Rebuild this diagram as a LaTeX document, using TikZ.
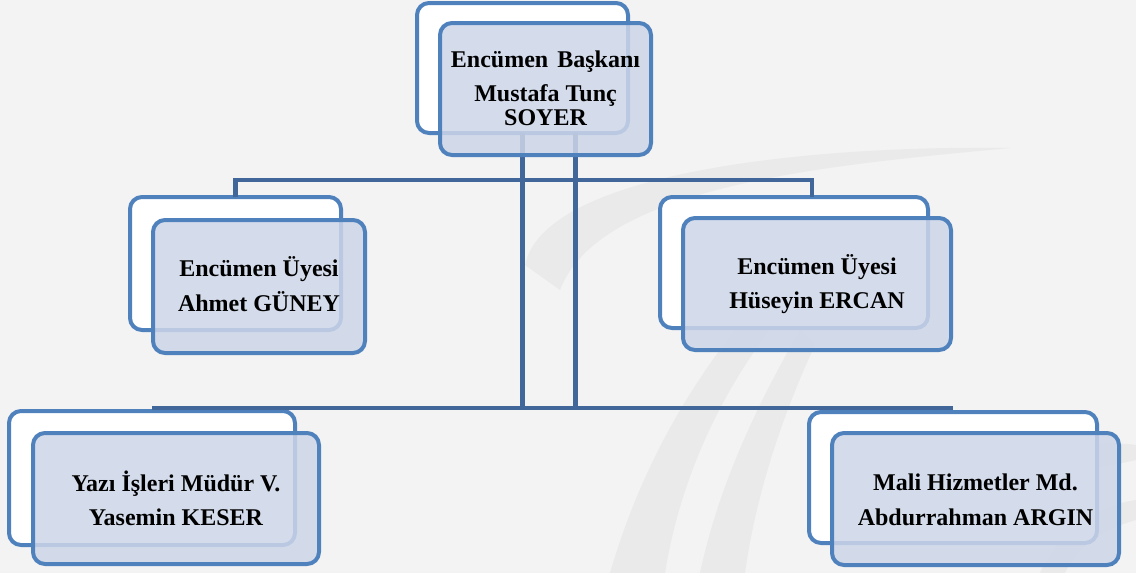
\documentclass[tikz,border=0pt]{standalone}
\usepackage{fontspec}
\setmainfont{Liberation Serif}
\definecolor{bgc}{HTML}{F3F3F3}
\definecolor{wm}{HTML}{EAEAEA}
\definecolor{boxblue}{HTML}{4F81BD}
\definecolor{connblue}{HTML}{41679A}
\definecolor{frontfill}{HTML}{CDD6E8}
\begin{document}
\begin{tikzpicture}[x=1pt,y=-1pt,
  backbox/.style={draw=boxblue, line width=4pt, rounded corners=12pt, fill=white, outer sep=0pt, inner sep=0pt},
  frontbox/.style={draw=boxblue, line width=4pt, rounded corners=12pt, fill=frontfill, fill opacity=0.85, outer sep=0pt, inner sep=0pt},
  conn/.style={draw=connblue, line width=4.5pt},
  lbl/.style={font=\fontsize{24}{24}\selectfont\bfseries, text=black, inner sep=0pt, anchor=base}]
\fill[bgc] (0,0) rectangle (1136,573);
\useasboundingbox (0,0) rectangle (1136,573);
% faint watermark
\begin{scope}[wm]
\fill (525,265) .. controls (545,170) and (820,145) .. (1010,148)
  .. controls (830,165) and (600,185) .. (560,290) -- cycle;
\fill (610,573) .. controls (640,470) and (690,380) .. (760,300)
  -- (785,310) .. controls (720,390) and (680,480) .. (665,573) -- cycle;
\fill (700,573) .. controls (720,480) and (760,400) .. (800,330)
  -- (815,345) .. controls (780,420) and (755,500) .. (745,573) -- cycle;
\fill (1000,480) .. controls (1040,445) and (1100,440) .. (1136,445)
  -- (1136,460) .. controls (1090,470) and (1040,480) .. (1000,480) -- cycle;
\fill (1040,573) .. controls (1060,530) and (1100,505) .. (1136,500)
  -- (1136,520) .. controls (1100,530) and (1075,550) .. (1065,573) -- cycle;
\end{scope}
% back boxes
\node[backbox, minimum width=211pt, minimum height=130pt] (tb) at (522.5,68) {};
\node[backbox, minimum width=211pt, minimum height=133pt] (ab) at (235.5,263.5) {};
\node[backbox, minimum width=268pt, minimum height=131pt] (hb) at (794,262.5) {};
\node[backbox, minimum width=286pt, minimum height=134pt] (yb) at (152,478) {};
\node[backbox, minimum width=288pt, minimum height=131pt] (mb) at (953,477.5) {};
% connectors
\coordinate (j1) at (575,180);
\draw[conn] (ab.north) |- (j1);
\draw[conn] ([xshift=18pt]hb.north) |- (j1);
\draw[conn] (tb.south) -- (tb.south |- 0,408);
\draw[conn] ([xshift=53pt]tb.south) -- ([xshift=53pt]tb.south |- 0,408);
\draw[conn] (yb.north |- 0,408) -- (mb.north |- 0,408);
% front boxes
\node[frontbox, minimum width=211pt, minimum height=132pt] (tf) at (545.5,89) {};
\node[frontbox, minimum width=212pt, minimum height=133pt] (af) at (259,286.5) {};
\node[frontbox, minimum width=268pt, minimum height=132pt] (hf) at (817,284) {};
\node[frontbox, minimum width=286pt, minimum height=131pt] (yf) at (176,498.5) {};
\node[frontbox, minimum width=287pt, minimum height=132pt] (mf) at (975.5,499) {};
% labels
\node[lbl] (t1) at (545.5,67) {Encümen\hspace{3pt} Başkanı};
\node[lbl] (t2) at (545.5,101) {Mustafa Tunç};
\node[lbl] (t3) at (545.5,125) {SOYER};
\node[lbl] (a1) at (259,276) {Encümen Üyesi};
\node[lbl] (a2) at (259,311) {Ahmet GÜNEY};
\node[lbl] (h1) at (817,274) {Encümen Üyesi};
\node[lbl] (h2) at (817,308) {Hüseyin ERCAN};
\node[lbl] (y1) at (176,491) {Yazı İşleri Müdür V.};
\node[lbl] (y2) at (176,525) {Yasemin KESER};
\node[lbl] (m1) at (975.5,490) {Mali Hizmetler Md.};
\node[lbl] (m2) at (975.5,525) {Abdurrahman ARGIN};
\end{tikzpicture}
\end{document}
